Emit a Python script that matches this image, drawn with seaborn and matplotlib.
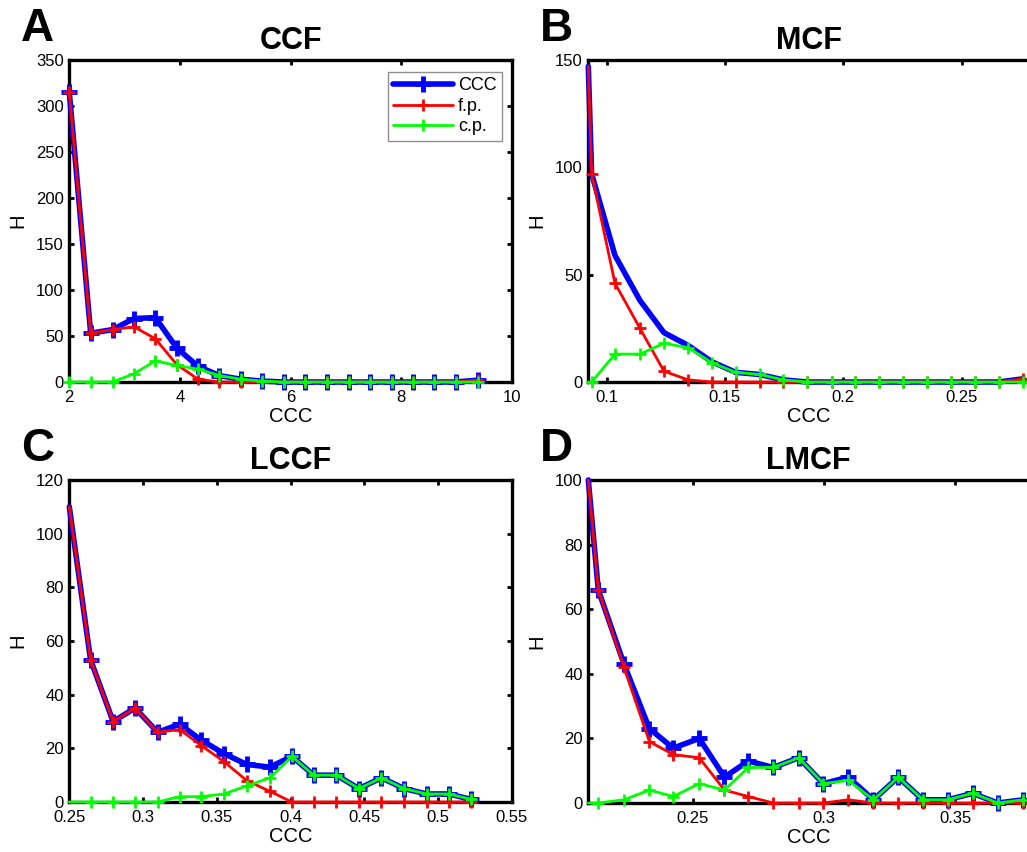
import numpy as np
import pandas as pd
import seaborn as sns
import matplotlib.pyplot as plt
from matplotlib.ticker import FormatStrFormatter

sns.set_style("ticks")
plt.rcParams['font.family'] = ['Liberation Sans', 'DejaVu Sans']
plt.rcParams['text.color'] = 'black'
plt.rcParams['axes.labelcolor'] = 'black'

# panel A - CCF
a_x = [2.000, 2.386, 2.784, 3.169, 3.555, 3.941, 4.327, 4.712, 5.098, 5.484,
       5.882, 6.268, 6.653, 7.051, 7.437, 7.823, 8.209, 8.594, 8.980, 9.378]
a_ccc = [315, 53, 57, 69, 70, 37, 17, 7, 3, 1, 0, 0, 0, 0, 0, 0, 0, 0, 0, 2]
a_fp = [315, 53, 57, 60, 47, 19, 3, 0, 0, 0, 0, 0, 0, 0, 0, 0, 0, 0, 0, 2]
a_cp = [0, 0, 0, 9, 23, 18, 14, 7, 3, 1, 0, 0, 0, 0, 0, 0, 0, 0, 0, 0]

# panel B - MCF
b_x = [0.09225, 0.09366, 0.10352, 0.11408, 0.12423, 0.13451, 0.14437, 0.15451,
       0.16465, 0.17465, 0.18479, 0.19507, 0.20507, 0.21507, 0.22535, 0.23521,
       0.24535, 0.25549, 0.26563, 0.27606]
b_ccc = [147, 97, 59, 38, 23, 17, 9.5, 4.5, 3.5, 1, 0, 0, 0, 0, 0, 0, 0, 0, 0, 1.5]
b_fp = [147, 97, 46, 25, 5, 1, 0, 0, 0, 0, 0, 0, 0, 0, 0, 0, 0, 0, 0, 1.5]
b_cp = [0, 0, 13, 13, 18, 16, 9, 4.5, 3.5, 1, 0, 0, 0, 0, 0, 0, 0, 0, 0, 0]

# panel C - LCCF
c_x = [0.2500, 0.2644, 0.2797, 0.2946, 0.3099, 0.3248, 0.3396, 0.3550, 0.3703,
       0.3860, 0.4009, 0.4158, 0.4311, 0.4464, 0.4617, 0.4770, 0.4923, 0.5072, 0.5225]
c_ccc = [110, 53, 30, 35, 26, 29, 23, 18, 14, 13, 17, 10, 10, 5, 9, 5, 3, 3, 1]
c_fp = [110, 53, 30, 35, 26, 27, 21, 15, 8, 4, 0, 0, 0, 0, 0, 0, 0, 0, 0]
c_cp = [0, 0, 0, 0, 0, 2, 2, 3, 6, 9, 17, 10, 10, 5, 9, 5, 3, 3, 1]

# panel D - LMCF
d_x = [0.2102, 0.2140, 0.2238, 0.2335, 0.2426, 0.2525, 0.2621, 0.2712, 0.2807,
       0.2904, 0.2998, 0.3093, 0.3189, 0.3284, 0.3377, 0.3472, 0.3567, 0.3663, 0.3761]
d_ccc = [100, 66, 43, 23, 17, 20, 8, 13, 11, 14, 6, 8, 1, 8, 1, 1, 3, 0, 1]
d_fp = [100, 66, 42, 19, 15, 14, 4, 2, 0, 0, 0, 1, 0, 0, 0, 0, 0, 0, 0]
d_cp = [0, 0, 1, 4, 2, 6, 4, 11, 11, 14, 6, 7, 1, 8, 1, 1, 3, 0, 1]

W, H = 1027, 852
fig = plt.figure(figsize=(W / 100, H / 100), dpi=100)


def px_axes(left, top, right, bottom):
    return fig.add_axes([left / W, 1 - bottom / H, (right - left) / W, (bottom - top) / H])


panels = [
    ("A", "CCF", a_x, a_ccc, a_fp, a_cp, (69.3, 60, 512, 382), (2, 10), (0, 350),
     [2, 4, 6, 8, 10], np.arange(0, 351, 50), True, None, True),
    ("B", "MCF", b_x, b_ccc, b_fp, b_cp, (588.3, 60, 1029, 382), (0.09225, 0.2785), (0, 150),
     [0.1, 0.15, 0.2, 0.25], [0, 50, 100, 150], False, slice(1, None), False),
    ("C", "LCCF", c_x, c_ccc, c_fp, c_cp, (69.3, 480, 511.7, 802), (0.25, 0.55), (0, 120),
     [0.25, 0.3, 0.35, 0.4, 0.45, 0.5, 0.55], np.arange(0, 121, 20), True, slice(1, None), True),
    ("D", "LMCF", d_x, d_ccc, d_fp, d_cp, (588.3, 480, 1029, 803), (0.2102, 0.3782), (0, 100),
     [0.25, 0.3, 0.35], np.arange(0, 101, 20), True, slice(1, None), False),
]

for letter, title, x, ccc, fp, cp, box, xl, yl, xt, yt, blue_marks, mev, rticks in panels:
    ax = px_axes(*box)
    df = pd.DataFrame({"CCC": x, "ccc": ccc, "fp": fp, "cp": cp})
    if blue_marks:
        sns.lineplot(data=df, x="CCC", y="ccc", ax=ax, color=(0, 0, 1), lw=4, marker="+",
                     markersize=11, mew=3.5, mec=(0, 0, 1), markevery=mev, label="CCC",
                     clip_on=False, zorder=3)
    else:
        sns.lineplot(data=df, x="CCC", y="ccc", ax=ax, color=(0, 0, 1), lw=4, label="CCC",
                     clip_on=False, zorder=3)
    sns.lineplot(data=df, x="CCC", y="fp", ax=ax, color=(1, 0, 0), lw=2, marker="+",
                 markersize=9, mew=2, mec=(1, 0, 0), markevery=mev, label="f.p.",
                 clip_on=False, zorder=4)
    sns.lineplot(data=df, x="CCC", y="cp", ax=ax, color=(0, 1, 0), lw=2, marker="+",
                 markersize=9, mew=2, mec=(0, 1, 0), markevery=mev, label="c.p.",
                 clip_on=False, zorder=5)
    ax.set_xlim(*xl)
    ax.set_ylim(*yl)
    ax.set_xticks(xt)
    ax.set_yticks(yt)
    ax.xaxis.set_major_formatter(FormatStrFormatter('%g'))
    ax.yaxis.set_major_formatter(FormatStrFormatter('%g'))
    ax.tick_params(direction="in", length=3.5, width=2, top=True, right=rticks,
                   labelsize=12, colors="black")
    ax.tick_params(axis="x", pad=6)
    ax.tick_params(axis="y", pad=4)
    for s in ax.spines.values():
        s.set_visible(True)
        s.set_linewidth(2.4)
        s.set_color("black")
        s.set_zorder(2)
    ax.set_xlabel("CCC", fontsize=14.5, labelpad=1)
    ax.set_ylabel("H", fontsize=14.5, labelpad=6)
    ax.set_title(title, fontsize=22, fontweight="bold", pad=8)
    ax.text(-0.11, 1.165, letter, transform=ax.transAxes, fontsize=33,
            fontweight="bold", ha="left", va="top")
    if letter == "A":
        leg = ax.legend(loc="upper right", bbox_to_anchor=(0.99, 0.98), fontsize=13,
                        frameon=True, fancybox=False, handlelength=3.3,
                        borderpad=0.3, labelspacing=0.2, handletextpad=0.3,
                        borderaxespad=0.3)
        leg.get_frame().set_edgecolor("0.45")
        leg.get_frame().set_linewidth(1)
        leg.set_zorder(6)
    else:
        ax.get_legend().remove()

fig.savefig("out.png", dpi=100)
